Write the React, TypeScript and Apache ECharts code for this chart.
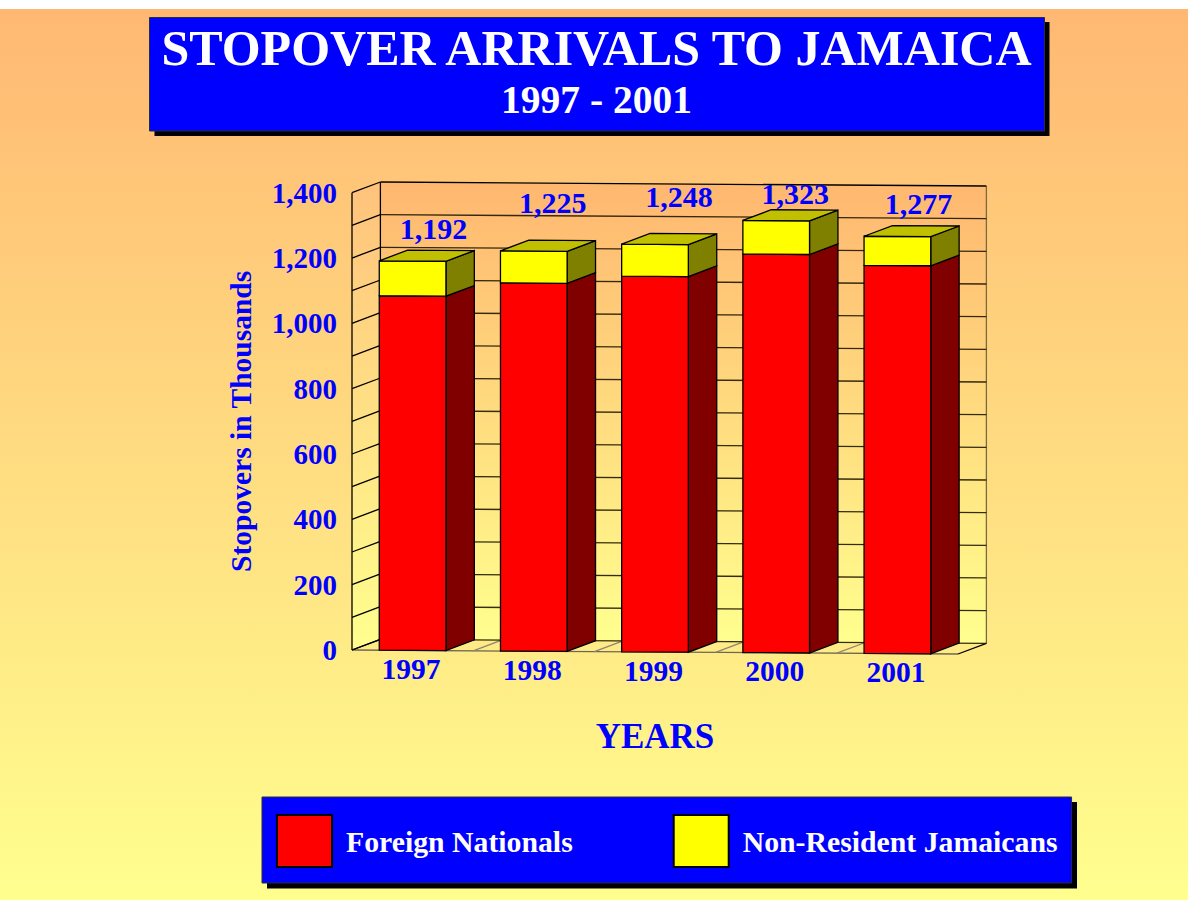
import React, { useEffect, useRef } from "react";
import * as echarts from "echarts";

const years = ["1997", "1998", "1999", "2000", "2001"];
const foreignNationals = [1085, 1127, 1150, 1220, 1188];
const nonResidentJamaicans = [107, 98, 98, 103, 89];
const gridValues = [0, 100, 200, 300, 400, 500, 600, 700, 800, 900, 1000, 1100, 1200, 1300, 1400];
const floorBands = [1, 2, 3, 4];

const SERIF = '"Liberation Serif", "Times New Roman", serif';
const BLUE = "#0000FF";
const DEPTH_X = 28.4;
const DEPTH_Y = -10.7;
const TILT = 4 / 606;
const BAR_RATIO = 0.55;
const LEFT = 352;
const RIGHT = 958;
const TOP = 192.7;
const BOTTOM = 650;
// nudges of the total labels relative to the bar's top centre
const labelDx = [21, 19, 24, 19, 21];
const labelDy = [-33, -49, -48, -27, -33];
// nudges of the year labels
const yearPad = [0, 1, 2, 2, 3];

const tilt = (x: number) => (x - LEFT) * TILT;
const project = (x: number, y: number, d: number) => [x + DEPTH_X * d, y + tilt(x) + DEPTH_Y * d];
const poly = (points: number[][], fill: any, stroke: string | null, lineWidth = 1.3, z2 = 0) => ({
  type: "polygon",
  z2,
  shape: { points },
  style: { fill, stroke: stroke ?? "none", lineWidth },
});
const seg = (a: number[], b: number[], stroke: string, lineWidth = 1.3, z2 = 1) => ({
  type: "line",
  z2,
  shape: { x1: a[0], y1: a[1], x2: b[0], y2: b[1] },
  style: { stroke, lineWidth },
});
const vGrad = (c0: string, c1: string) =>
  new echarts.graphic.LinearGradient(0, 0, 0, 1, [
    { offset: 0, color: c0 },
    { offset: 1, color: c1 },
  ]);

function renderWalls(params: any, api: any) {
  const v = api.value(0);
  const y = api.coord([0, v])[1];
  const cs = params.coordSys;
  const l = cs.x;
  const r = cs.x + cs.width;
  const children: any[] = [];
  const line = v === 1400 ? "#000000" : "rgba(30,22,0,0.9)";
  if (params.dataIndex === 0) {
    const yTop = api.coord([0, 1400])[1];
    children.push(
      poly([project(l, yTop, 1), project(r, yTop, 1), project(r, y, 1), project(l, y, 1)], vGrad("#FFB770", "#FFFF8E"), null),
      poly([project(l, yTop, 0), project(l, yTop, 1), project(l, y, 1), project(l, y, 0)], vGrad("#FFC27C", "#FFFF8E"), null),
      seg(project(l, yTop, 0), project(l, y, 0), "#000000"),
      seg(project(l, yTop, 1), project(l, y, 1), "#000000"),
      seg(project(r, yTop, 1), project(r, y, 1), "#7A6A40"),
      seg(project(l, y, 0), project(r, y, 0), "#6E6850"),
      seg(project(r, y, 0), project(r, y, 1), "#000000"),
      seg(project(l, y, 0), project(l, y, 1), "#000000")
    );
    floorBands.forEach((b) => {
      const x = l + (cs.width * b) / years.length;
      children.push(seg(project(x, y, 0), project(x, y, 1), "#8C8672"));
    });
  }
  children.push(seg(project(l, y, 1), project(r, y, 1), line));
  children.push(seg(project(l, y, 0), project(l, y, 1), "#000000"));
  return { type: "group", children };
}

function barBlock(api: any, cat: number, v0: number, v1: number, front: string, side: string) {
  const w = api.size([1, 0])[0] * BAR_RATIO;
  const c0 = api.coord([cat, v0]);
  const c1 = api.coord([cat, v1]);
  const xl = c0[0] - w / 2;
  const xr = c0[0] + w / 2;
  const children: any[] = [
    poly([project(xr, c1[1], 0), project(xr, c1[1], 1), project(xr, c0[1], 1), project(xr, c0[1], 0)], side, "#000000"),
    poly([project(xl, c1[1], 0), project(xr, c1[1], 0), project(xr, c0[1], 0), project(xl, c0[1], 0)], front, "#000000"),
  ];
  return { children, xl, xr, top: c1[1], cx: c0[0] };
}

function renderForeign(_params: any, api: any) {
  const cat = api.value(0);
  const b = barBlock(api, cat, 0, api.value(1), "#FF0000", "#800000");
  return { type: "group", children: b.children };
}

function renderNonResident(_params: any, api: any) {
  const cat = api.value(0);
  const base = api.value(1);
  const total = base + api.value(2);
  const b = barBlock(api, cat, base, total, "#FFFF00", "#808000");
  const pt = project(b.cx, b.top, 0);
  return {
    type: "group",
    children: [
      ...b.children,
      poly([project(b.xl, b.top, 0), project(b.xl, b.top, 1), project(b.xr, b.top, 1), project(b.xr, b.top, 0)], "#C0C000", "#000000"),
      {
        type: "text",
        z2: 5,
        x: pt[0] + labelDx[cat],
        y: pt[1] + labelDy[cat],
        style: {
          text: total.toLocaleString("en-US"),
          fill: BLUE,
          font: `bold 30px ${SERIF}`,
          align: "center",
          verticalAlign: "middle",
        },
      },
    ],
  };
}

const richYears: any = {};
yearPad.forEach((p, i) => {
  richYears[`y${i}`] = {
    color: BLUE,
    fontFamily: SERIF,
    fontWeight: "bold",
    fontSize: 29.5,
    padding: [p, 3, 0, 0],
  };
});

export default function App() {
  const ref = useRef<HTMLDivElement>(null);
  useEffect(() => {
    const chart = echarts.init(ref.current!, null, { renderer: "svg" });
    const option: any = {
      animation: false,
      backgroundColor: "#FFFFFF",
      title: {
        text: "STOPOVER ARRIVALS TO JAMAICA",
        subtext: "1997 - 2001",
        left: 596.5,
        top: 21,
        textAlign: "center",
        itemGap: 3,
        padding: 0,
        textStyle: { color: "#FFFFFF", fontFamily: SERIF, fontWeight: "bold", fontSize: 50, lineHeight: 54 },
        subtextStyle: { color: "#FFFFFF", fontFamily: SERIF, fontWeight: "bold", fontSize: 39.5, lineHeight: 44 },
      },
      legend: {
        left: 262,
        top: 797,
        padding: [17, 14, 15, 14],
        backgroundColor: BLUE,
        borderColor: "#2A2A40",
        borderWidth: 1,
        itemWidth: 55,
        itemHeight: 52,
        itemGap: 100,
        icon: "rect",
        selectedMode: false,
        data: ["Foreign Nationals", "Non-Resident Jamaicans"],
        textStyle: { color: "#FFFFFF", fontFamily: SERIF, fontWeight: "bold", fontSize: 29.75, padding: [0, 0, 0, 9] },
      },
      grid: { left: LEFT, top: TOP, width: RIGHT - LEFT, height: BOTTOM - TOP, containLabel: false },
      xAxis: {
        type: "category",
        data: years,
        name: "YEARS",
        nameLocation: "middle",
        nameGap: 69,
        nameTextStyle: { color: BLUE, fontFamily: SERIF, fontWeight: "bold", fontSize: 35 },
        axisLine: { show: false },
        axisTick: { show: false },
        axisLabel: {
          margin: 4,
          formatter: (value: string, index: number) => `{y${index}|${value}}`,
          rich: richYears,
        },
      },
      yAxis: {
        type: "value",
        min: 0,
        max: 1400,
        interval: 200,
        name: "Stopovers in Thousands",
        nameLocation: "middle",
        nameGap: 96,
        nameTextStyle: { color: BLUE, fontFamily: SERIF, fontWeight: "bold", fontSize: 29.5 },
        axisLine: { show: false },
        axisTick: { show: false },
        splitLine: { show: false },
        axisLabel: {
          margin: 15,
          color: BLUE,
          fontFamily: SERIF,
          fontWeight: "bold",
          fontSize: 29,
          formatter: (v: number) => v.toLocaleString("en-US"),
        },
      },
      graphic: [
        {
          type: "rect",
          z: -20,
          shape: { x: 0, y: 9, width: 1188, height: 891 },
          style: { fill: vGrad("#FFB873", "#FFFF8E") },
        },
        { type: "rect", z: -10, shape: { x: 154.5, y: 22, width: 895, height: 114 }, style: { fill: "#000000" } },
        {
          type: "rect",
          z: -9,
          shape: { x: 149.5, y: 17.5, width: 895, height: 113.5 },
          style: { fill: BLUE, stroke: "#2A2A40", lineWidth: 1 },
        },
        { type: "rect", z: -10, shape: { x: 267, y: 802, width: 810, height: 86.5 }, style: { fill: "#000000" } },
      ],
      series: [
        {
          type: "custom",
          name: "walls",
          z: 1,
          renderItem: renderWalls,
          coordinateSystem: "cartesian2d",
          encode: { y: 0 },
          data: gridValues.map((v) => [v]),
          silent: true,
        },
        {
          type: "custom",
          name: "Foreign Nationals",
          z: 2,
          renderItem: renderForeign,
          encode: { x: 0, y: 1 },
          itemStyle: { color: "#FF0000", borderColor: "#000000", borderWidth: 1.3 },
          data: years.map((_, i) => [i, foreignNationals[i]]),
          silent: true,
        },
        {
          type: "custom",
          name: "Non-Resident Jamaicans",
          z: 3,
          renderItem: renderNonResident,
          encode: { x: 0, y: [1, 2] },
          itemStyle: { color: "#FFFF00", borderColor: "#000000", borderWidth: 1.3 },
          data: years.map((_, i) => [i, foreignNationals[i], nonResidentJamaicans[i]]),
          silent: true,
        },
      ],
    };
    chart.setOption(option);
    return () => chart.dispose();
  }, []);
  return <div ref={ref} style={{ position: "fixed", left: 0, top: 0, width: 1188, height: 909 }} />;
}
